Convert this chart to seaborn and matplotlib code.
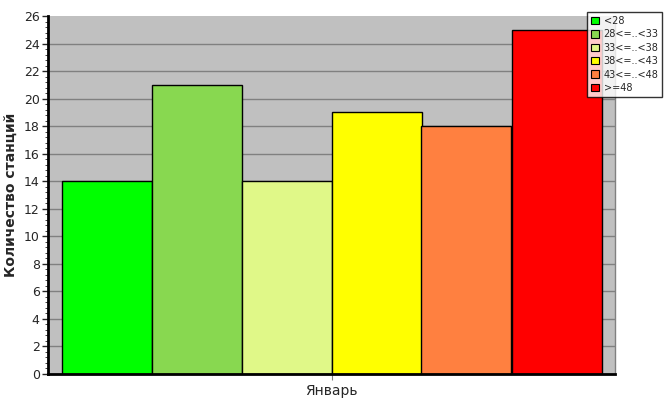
import pandas as pd
import numpy as np
import matplotlib.pyplot as plt
import seaborn as sns
from matplotlib.patches import Patch
from matplotlib.ticker import MultipleLocator

# data
month = 'Январь'
categories = ['<28', '28<=..<33', '33<=..<38', '38<=..<43', '43<=..<48', '>=48']
counts = [14, 21, 14, 19, 18, 25]
colors = ['#00FF00', '#88D850', '#E0F888', '#FFFF00', '#FF8040', '#FF0000']

df = pd.DataFrame({'month': [month] * len(categories), 'cat': categories, 'count': counts})

sns.set_style('white')
plt.rcParams['font.family'] = ['DejaVu Sans']

fig = plt.figure(figsize=(6.67, 4.15), dpi=100)
ax = fig.add_axes([48/667, 1 - 374/415, (615 - 48)/667, (374 - 16)/415])
ax.set_facecolor('#C0C0C0')

sns.barplot(data=df, x='month', y='count', hue='cat', palette=colors,
            width=540/567, edgecolor='black', linewidth=1, saturation=1,
            legend=False, ax=ax)

ax.set_xlim(-0.5, 0.5)
ax.set_ylim(0, 26)
ax.yaxis.set_major_locator(MultipleLocator(2))
ax.yaxis.set_minor_locator(MultipleLocator(0.4))
ax.grid(axis='y', color='#808080', linewidth=1)
ax.set_axisbelow(True)
ax.tick_params(axis='y', which='major', length=4, width=1, labelsize=9, left=True, pad=2)
ax.tick_params(axis='y', which='minor', length=2, width=0.6, left=True)
ax.tick_params(axis='x', length=4, color='#808080', labelsize=10, bottom=True)
ax.set_xlabel('')
ax.set_ylabel('Количество станций', fontsize=10, fontweight='bold')

# no grid line on the top edge
fig.canvas.draw()
for t, gl in zip(ax.get_yticks(), ax.get_ygridlines()):
    if t >= 26:
        gl.set_visible(False)

for s in ['left', 'bottom']:
    ax.spines[s].set_color('black')
    ax.spines[s].set_linewidth(2)
ax.spines['top'].set_visible(False)
ax.spines['right'].set_color('#808080')
ax.spines['right'].set_linewidth(1)

handles = [Patch(facecolor=c, edgecolor='black', linewidth=0.8) for c in colors]
leg = fig.legend(handles, categories, loc='upper left',
                 bbox_to_anchor=(587/667, 1 - 12/415), fontsize=7,
                 frameon=True, fancybox=False, handlelength=0.8, handleheight=0.8,
                 handletextpad=0.5, labelspacing=0.35, borderpad=0.4,
                 borderaxespad=0)
leg.get_frame().set_edgecolor('black')
leg.get_frame().set_linewidth(1)
leg.get_frame().set_facecolor('white')

fig.savefig('out.png', dpi=100)
